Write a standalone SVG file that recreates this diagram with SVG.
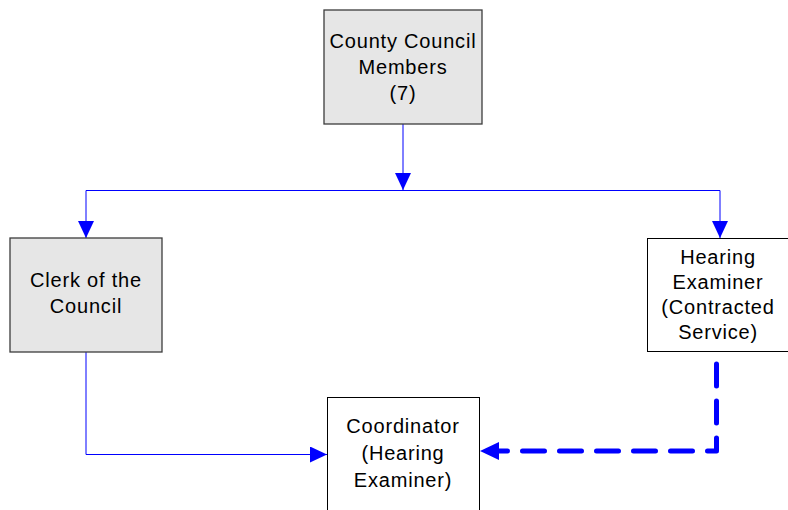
<svg xmlns="http://www.w3.org/2000/svg" width="788" height="510" viewBox="0 0 788 510">
<style>
.g{fill:#e6e6e6;stroke:#3c3c3c;stroke-width:1.3}
.w{fill:#fff;stroke:#000;stroke-width:1}
text{font-family:"Liberation Sans",Arial,sans-serif;font-size:20px;letter-spacing:0.8px;fill:#000;text-anchor:middle}
.c{fill:none;stroke:#0000ff;stroke-width:1}
.d{fill:none;stroke:#0000ff;stroke-width:5;stroke-dasharray:22 15;stroke-linecap:round;stroke-linejoin:round}
</style>
<defs>
<marker id="a" markerWidth="17" markerHeight="16" refX="17" refY="8" orient="auto" markerUnits="userSpaceOnUse">
<path d="M0,0 L17,8 L0,16 Z" fill="#0000ff"/>
</marker>
<marker id="b" markerWidth="19" markerHeight="18" refX="19" refY="9" orient="auto" markerUnits="userSpaceOnUse">
<path d="M0,0 L19,9 L0,18 Z" fill="#0000ff"/>
</marker>
</defs>
<rect width="788" height="510" fill="#fff"/>
<g id="connectors">
<line class="c" x1="403" y1="124" x2="403" y2="190" marker-end="url(#a)"/>
<polyline class="c" points="403,190.5 86,190.5 86,238" marker-end="url(#a)"/>
<polyline class="c" points="403,190.5 720,190.5 720,238" marker-end="url(#a)"/>
<polyline class="c" points="86,352 86,454.5 327,454.5" marker-end="url(#a)"/>
<polyline class="d" points="716.5,364 716.5,451 499,451"/>
<path d="M480,451 L499,442 L499,460 Z" fill="#0000ff"/>
</g>
<g id="council">
<rect class="g" x="324" y="10" width="158" height="114"/>
<text x="403" y="48">County Council</text>
<text x="403" y="74">Members</text>
<text x="403" y="100">(7)</text>
</g>
<g id="clerk">
<rect class="g" x="10" y="238" width="152" height="114"/>
<text x="86" y="287">Clerk of the</text>
<text x="86" y="313">Council</text>
</g>
<g id="hearing">
<rect class="w" x="647.5" y="238.5" width="145" height="113"/>
<text x="718" y="264">Hearing</text>
<text x="718" y="289">Examiner</text>
<text x="718" y="314">(Contracted</text>
<text x="718" y="339">Service)</text>
</g>
<g id="coordinator">
<rect class="w" x="327.5" y="397.5" width="152" height="120"/>
<text x="403" y="433">Coordinator</text>
<text x="403" y="460">(Hearing</text>
<text x="403" y="487">Examiner)</text>
</g>
</svg>
